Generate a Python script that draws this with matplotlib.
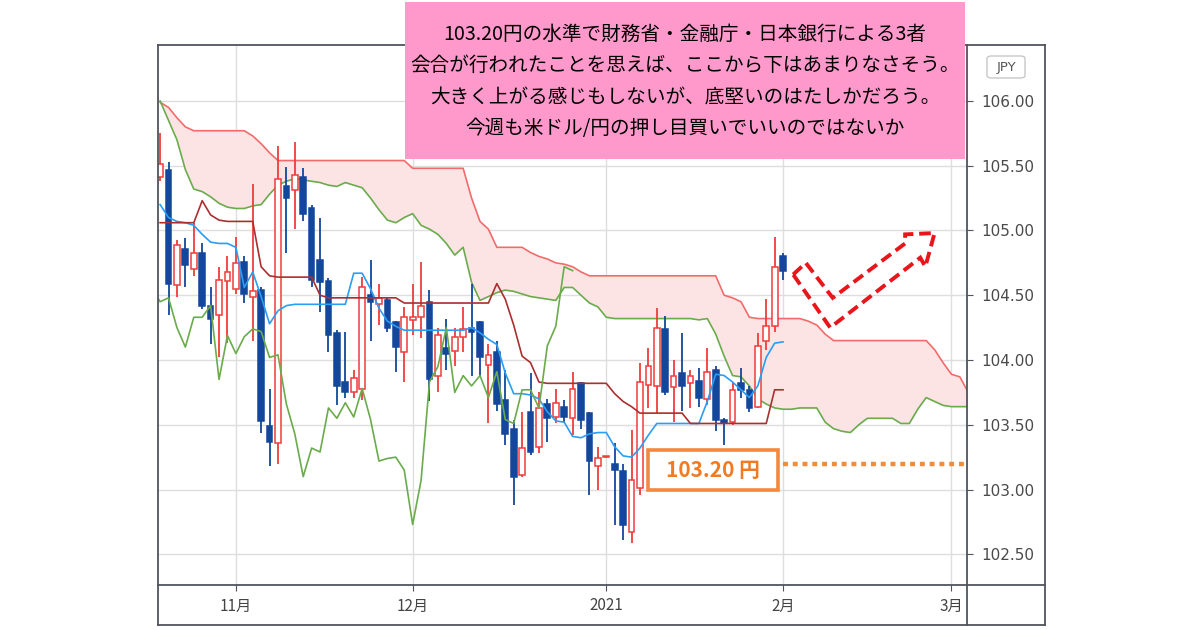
import numpy as np
import matplotlib.pyplot as plt
from matplotlib.patches import Rectangle, Polygon, FancyBboxPatch
from matplotlib.lines import Line2D

plt.rcParams['font.family'] = ['Noto Sans CJK JP', 'DejaVu Sans']

# USD/JPY daily candles, late Oct 2020 -> 1 Feb 2021
opens = [105.41, 105.47, 104.58, 104.86, 104.70, 104.83, 104.42, 104.35, 104.61, 104.55,
         104.76, 104.49, 104.54, 103.49, 103.36, 105.34, 105.31, 105.41, 105.17, 104.77,
         104.61, 104.21, 103.83, 103.75, 103.78, 104.50, 104.43, 104.46, 104.29, 104.06,
         104.31, 104.33, 104.45, 103.88, 104.09, 104.07, 104.18, 104.25, 104.29, 103.96,
         104.06, 103.69, 103.47, 103.11, 103.60, 103.33, 103.66, 103.56, 103.64, 103.55,
         103.82, 103.59, 103.18, 103.25, 103.20, 103.14, 102.67, 103.01, 103.81, 103.80,
         104.24, 103.79, 103.90, 103.82, 103.84, 103.70, 103.92, 103.54, 103.52, 103.82,
         103.77, 103.64, 104.15, 104.26, 104.80]
highs = [105.75, 105.53, 104.93, 104.94, 105.06, 104.90, 104.56, 104.72, 104.80, 104.95,
         104.80, 105.36, 104.56, 103.78, 105.65, 105.49, 105.68, 105.48, 105.20, 105.10,
         104.63, 104.23, 104.22, 103.92, 104.64, 104.77, 104.59, 104.49, 104.30, 104.41,
         104.59, 104.76, 104.54, 104.25, 104.32, 104.25, 104.41, 104.59, 104.30, 104.12,
         104.15, 103.92, 103.54, 103.60, 103.90, 103.75, 103.70, 103.78, 103.69, 103.91,
         103.83, 103.60, 103.33, 103.26, 103.36, 103.20, 103.46, 103.98, 104.09, 104.40,
         104.34, 104.00, 104.21, 103.92, 103.94, 104.09, 103.95, 103.55, 103.82, 103.94,
         103.80, 104.21, 104.47, 104.95, 104.83]
lows = [105.38, 104.35, 104.49, 104.56, 104.65, 104.39, 104.12, 104.02, 104.13, 104.51,
        104.44, 104.15, 103.44, 103.18, 103.20, 104.83, 105.01, 105.07, 104.56, 104.37,
        104.06, 103.65, 103.71, 103.71, 103.69, 104.15, 104.27, 104.22, 103.91, 103.83,
        104.19, 104.17, 103.68, 103.75, 103.92, 103.95, 104.06, 103.88, 103.87, 103.51,
        103.61, 103.34, 102.88, 103.10, 103.27, 103.28, 103.37, 103.51, 103.51, 103.42,
        103.47, 102.96, 103.00, 103.24, 102.73, 102.61, 102.59, 102.96, 103.63, 103.59,
        103.73, 103.52, 103.61, 103.63, 103.64, 103.65, 103.45, 103.34, 103.50, 103.71,
        103.60, 103.63, 104.08, 104.22, 104.62]
closes = [105.51, 104.59, 104.89, 104.73, 104.83, 104.42, 104.32, 104.62, 104.68, 104.75,
          104.51, 104.53, 103.53, 103.37, 105.40, 105.25, 105.43, 105.13, 104.62, 104.60,
          104.19, 103.80, 103.75, 103.86, 104.56, 104.45, 104.48, 104.25, 104.10, 104.33,
          104.33, 104.42, 103.85, 104.19, 104.05, 104.18, 104.24, 104.22, 104.02, 104.04,
          103.66, 103.43, 103.10, 103.32, 103.29, 103.63, 103.55, 103.67, 103.56, 103.78,
          103.54, 103.22, 103.24, 103.25, 103.15, 102.73, 103.07, 103.83, 103.95, 104.25,
          103.75, 103.88, 103.80, 103.88, 103.71, 103.91, 103.54, 103.51, 103.77, 103.77,
          103.63, 104.11, 104.26, 104.72, 104.69]

# Ichimoku lines
tenkan = [105.20, 105.10, 105.07, 105.06, 105.04, 104.97, 104.91, 104.90, 104.90, 104.87,
          104.56, 104.68, 104.49, 104.28, 104.38, 104.42, 104.43, 104.43, 104.43, 104.43,
          104.43, 104.43, 104.43, 104.67, 104.67, 104.55, 104.40, 104.30, 104.26, 104.23,
          104.23, 104.23, 104.23, 104.23, 104.23, 104.23, 104.23, 104.25, 104.21, 104.16,
          104.12, 103.90, 103.74, 103.74, 103.73, 103.70, 103.60, 103.53, 103.52, 103.41,
          103.40, 103.43, 103.44, 103.44, 103.33, 103.26, 103.25, 103.32, 103.42, 103.51,
          103.51, 103.51, 103.51, 103.51, 103.51, 103.68, 103.89, 103.88, 103.83, 103.77,
          103.71, 103.80, 104.02, 104.13, 104.14]
kijun = [105.06, 105.06, 105.06, 105.06, 105.06, 105.23, 105.12, 105.08, 105.07, 105.07,
         105.07, 105.07, 104.72, 104.65, 104.64, 104.64, 104.64, 104.64, 104.64, 104.50,
         104.48, 104.48, 104.48, 104.48, 104.48, 104.48, 104.48, 104.48, 104.48, 104.44,
         104.44, 104.44, 104.44, 104.44, 104.44, 104.44, 104.44, 104.44, 104.44, 104.44,
         104.59, 104.47, 104.27, 104.03, 103.98, 103.83, 103.82, 103.82, 103.82, 103.82,
         103.82, 103.82, 103.82, 103.82, 103.74, 103.68, 103.64, 103.59, 103.59, 103.59,
         103.59, 103.59, 103.59, 103.51, 103.51, 103.51, 103.51, 103.51, 103.51, 103.51,
         103.51, 103.51, 103.51, 103.77, 103.77]
span_a = [106.00, 105.85, 105.70, 105.47, 105.32, 105.30, 105.26, 105.21, 105.18, 105.17,
          105.17, 105.19, 105.20, 105.28, 105.35, 105.38, 105.40, 105.39, 105.38, 105.37,
          105.35, 105.34, 105.37, 105.35, 105.33, 105.25, 105.16, 105.08, 105.06, 105.10,
          105.13, 105.04, 105.01, 104.97, 104.90, 104.81, 104.87, 104.60, 104.46, 104.49,
          104.52, 104.54, 104.53, 104.51, 104.49, 104.48, 104.47, 104.46, 104.56, 104.56,
          104.50, 104.44, 104.41, 104.33, 104.32, 104.32, 104.32, 104.32, 104.32, 104.32,
          104.32, 104.32, 104.32, 104.32, 104.31, 104.32, 104.20, 104.03, 103.88, 103.87,
          103.80, 103.70, 103.66, 103.63, 103.62, 103.62, 103.63, 103.63, 103.63, 103.52,
          103.47, 103.45, 103.44, 103.50, 103.55, 103.55, 103.55, 103.55, 103.51, 103.51,
          103.62, 103.71, 103.68, 103.65, 103.64, 103.64, 103.64]
span_b = [105.99, 105.95, 105.87, 105.80, 105.77, 105.77, 105.77, 105.77, 105.77, 105.77,
          105.77, 105.73, 105.67, 105.60, 105.54, 105.54, 105.54, 105.54, 105.54, 105.54,
          105.54, 105.54, 105.54, 105.54, 105.54, 105.54, 105.54, 105.54, 105.54, 105.54,
          105.48, 105.48, 105.48, 105.48, 105.48, 105.48, 105.48, 105.25, 105.07, 105.01,
          104.87, 104.87, 104.87, 104.87, 104.83, 104.80, 104.78, 104.75, 104.74, 104.72,
          104.68, 104.65, 104.65, 104.65, 104.65, 104.65, 104.65, 104.65, 104.65, 104.65,
          104.65, 104.65, 104.65, 104.65, 104.65, 104.65, 104.65, 104.50, 104.48, 104.45,
          104.33, 104.32, 104.32, 104.32, 104.32, 104.32, 104.32, 104.30, 104.27, 104.20,
          104.15, 104.15, 104.15, 104.15, 104.15, 104.15, 104.15, 104.15, 104.15, 104.15,
          104.15, 104.15, 104.08, 103.98, 103.89, 103.87, 103.75]
lag = 25  # chikou span shift

month_pos = [9, 30, 53, 74, 94]
month_labels = ['11月', '12月', '2021', '2月', '3月']
price_ticks = [102.5, 103.0, 103.5, 104.0, 104.5, 105.0, 105.5, 106.0]
level = 103.20

memo = ['103.20円の水準で財務省・金融庁・日本銀行による3者',
        '会合が行われたことを思えば、ここから下はあまりなさそう。',
        '大きく上がる感じもしないが、底堅いのはたしかだろう。',
        '今週も米ドル/円の押し目買いでいいのではないか']

W, H = 1200, 630
def fx(x):
    return x / W
def fy(y):
    return 1 - y / H

up_col = '#f03c3c'
dn_col = '#13479c'
green = '#6aab4c'
frame_col = '#50535e'

fig = plt.figure(figsize=(12, 6.3), dpi=100)
ax = fig.add_axes([fx(158), fy(585), (967 - 158) / W, (585 - 45) / H])
ax.set_xlim(-0.25, 95.85)
ax.set_ylim(102.263, 106.432)

# cloud
xc = np.arange(len(span_a))
ax.fill_between(xc, span_a, span_b, color='#fde4e4', lw=0, zorder=1)
ax.plot(xc, span_b, color='#f26b6b', lw=1.2, zorder=2)
ax.plot(xc, span_a, color=green, lw=1.2, zorder=2)

# candles
x = np.arange(len(closes))
o = np.array(opens)
c = np.array(closes)
is_up = c >= o
cols = [up_col if u else dn_col for u in is_up]
ax.vlines(x, lows, highs, colors=cols, lw=1.3, zorder=3)
body = np.maximum(np.abs(c - o), 0.012)
ax.bar(x, body, bottom=np.minimum(o, c), width=0.68,
       color=['white' if u else dn_col for u in is_up],
       edgecolor=cols, linewidth=1.1, zorder=4)

# conversion / base / lagging lines
ax.plot(x, tenkan, color='#2a9df4', lw=1.2, zorder=5)
ax.plot(x, kijun, color='#a8302f', lw=1.2, zorder=5)
ax.plot(x - lag, closes, color=green, lw=1.2, zorder=5)

# axes styling
for s in ax.spines.values():
    s.set_visible(False)
ax.yaxis.tick_right()
ax.set_yticks(price_ticks)
ax.set_yticklabels(['%.2f' % p for p in price_ticks])
ax.set_xticks(month_pos)
ax.set_xticklabels(month_labels)
ax.tick_params(axis='y', direction='out', length=4, pad=6, color=frame_col,
               labelcolor='#4a4a4a', labelsize=11)
ax.tick_params(axis='x', direction='out', length=4, pad=5, color=frame_col,
               labelcolor='#444444', labelsize=11)
for lbl in ax.get_yticklabels():
    lbl.set_fontfamily('DejaVu Sans')
ax.grid(color='#dedede', lw=1)
ax.set_axisbelow(True)

# 103.20 box and dotted level line
ax.add_patch(Rectangle((57.96, 102.996), 15.44, 0.309, fc='white', ec='#f5883a',
                       lw=2.6, zorder=7))
ax.text(65.7, 103.15, '103.20 円', color='#f07b22', fontsize=15, fontweight='bold',
        ha='center', va='center', zorder=8)
ax.hlines(level, 74.0, 95.85, color='#f28c38', lw=3.2, linestyle=(0, (1.1, 1.1)),
          zorder=7)

# dashed rebound arrow
arrow = [(75.2, 104.66), (76.7, 104.75), (79.9, 104.48), (88.5, 104.90), (88.5, 104.97),
         (92.0, 104.98), (90.9, 104.72), (90.3, 104.79), (79.6, 104.25)]
ax.add_patch(Polygon(arrow, closed=True, fill=False, ec='#e8151b', lw=2.8,
                     linestyle=(0, (3, 1.5)), zorder=8))

# frame
frame = [((158, 45), (1045, 45)), ((158, 625), (1045, 625)), ((158, 585), (1045, 585)),
         ((158, 45), (158, 625)), ((967, 45), (967, 625)), ((1045, 45), (1045, 625))]
for (x0, y0), (x1, y1) in frame:
    fig.add_artist(Line2D([fx(x0), fx(x1)], [fy(y0), fy(y1)], color=frame_col, lw=1.3,
                          zorder=5))

# JPY badge
fig.add_artist(FancyBboxPatch((fx(987), fy(78)), 38 / W, 22 / H,
                              boxstyle='round,pad=0,rounding_size=0.004',
                              fc='white', ec='#c8c8c8', lw=1, zorder=6))
fig.text(fx(1006), fy(67), 'JPY', color='#555555', fontsize=9.5, family='DejaVu Sans',
         ha='center', va='center', zorder=7)

# comment box
fig.add_artist(Rectangle((fx(405), fy(159)), 560 / W, 157 / H, fc='#ff99cc', lw=0,
                         zorder=10))
for i, line in enumerate(memo):
    fig.text(fx(685), fy(34 + 31.5 * i), line, fontsize=14.1, color='black',
             ha='center', va='center', zorder=11)

fig.savefig('out.png', dpi=100)
